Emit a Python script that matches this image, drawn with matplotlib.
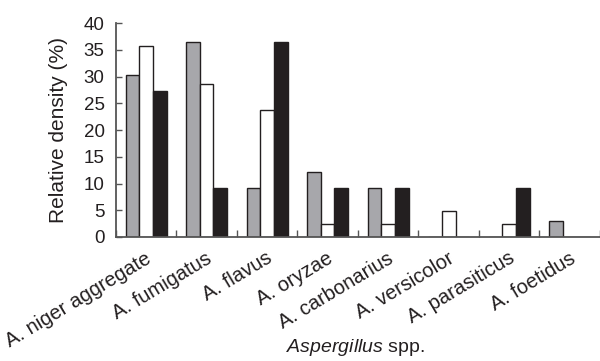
import numpy as np
import matplotlib
matplotlib.use('Agg')
import matplotlib.pyplot as plt
import matplotlib.transforms as mtransforms

# Relative density (%) per Aspergillus species, three sample series
species = ['A. niger aggregate', 'A. fumigatus', 'A. flavus', 'A. oryzae',
           'A. carbonarius', 'A. versicolor', 'A. parasiticus', 'A. foetidus']
series_gray = [30.3, 36.4, 9.1, 12.1, 9.1, 0.0, 0.0, 3.0]
series_white = [35.7, 28.6, 23.8, 2.4, 2.4, 4.8, 2.4, 0.0]
series_black = [27.3, 9.1, 36.4, 9.1, 9.1, 0.0, 9.1, 0.0]
y_ticks = [0, 5, 10, 15, 20, 25, 30, 35, 40]

plt.rcParams['font.family'] = ['Liberation Sans', 'DejaVu Sans']
plt.rcParams['mathtext.fontset'] = 'custom'
plt.rcParams['mathtext.it'] = 'Liberation Sans:italic'
plt.rcParams['mathtext.rm'] = 'Liberation Sans'

fig = plt.figure(figsize=(6.0, 3.61), dpi=100)
ax = fig.add_axes([0.193, 0.3435, 0.807, 0.5925])

x = np.arange(len(species))
w = 0.226
edge = '#231f20'
ax.bar(x - w, series_gray, w, color='#a7a7ab', edgecolor=edge, linewidth=1.0)
ax.bar(x, series_white, w, color='white', edgecolor=edge, linewidth=1.0)
ax.bar(x + w, series_black, w, color='#231f20', edgecolor=edge, linewidth=1.0)

ax.set_xlim(-0.5, len(species) - 0.5)
ax.set_ylim(0, 40)
ax.set_yticks(y_ticks)
ax.tick_params(axis='y', direction='in', length=4, width=1, labelsize=13.5,
               colors='#555555', labelcolor='#231f20', pad=8)

# tick marks on the category boundaries, no labels there
ax.set_xticks(np.arange(len(species) + 1) - 0.5)
ax.set_xticklabels([])
ax.tick_params(axis='x', direction='in', length=5, width=1, colors='#555555')

for s in ['top', 'right']:
    ax.spines[s].set_visible(False)
for s in ['left', 'bottom']:
    ax.spines[s].set_linewidth(1.3)
    ax.spines[s].set_color('#555555')

ax.set_ylabel('Relative density (%)', fontsize=15, color='#231f20', labelpad=11)

# slanted category labels, right end under the middle of each group
trans = mtransforms.blended_transform_factory(ax.transData, ax.transAxes)
for i, name in enumerate(species):
    ax.text(i - 0.02, -0.055, name, transform=trans, rotation=31,
            rotation_mode='anchor', ha='right', va='top', fontsize=14.5,
            color='#231f20')

fig.text(0.592, 0.008, r'$\mathit{Aspergillus}$ spp.', ha='center', va='bottom',
         fontsize=14, color='#231f20')

fig.savefig('out.png', dpi=100)
